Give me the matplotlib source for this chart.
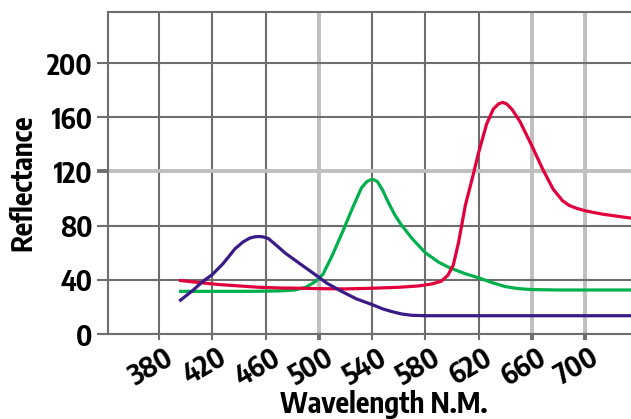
import matplotlib
matplotlib.use("Agg")
import matplotlib.pyplot as plt
import matplotlib.transforms as mtransforms

# spectral reflectance curves
blue_nm = [396, 405, 413, 420, 428, 437, 443, 448, 452, 455, 458, 462, 468, 475, 487, 497,
           506, 517, 528, 540, 548, 555, 562, 570, 580, 735]
blue_val = [25, 32, 39, 44, 52, 63, 68, 70.8, 71.8, 72, 71.7, 70.5, 65.5, 59.5, 51, 44,
            37.5, 31.5, 26, 21.7, 18.5, 16.5, 14.8, 13.8, 13.5, 13.5]

green_nm = [396, 420, 450, 470, 482, 490, 497, 503, 510, 518, 525, 532, 536, 539, 541,
            544, 548, 552, 557, 562, 570, 580, 590, 598, 610, 620, 630, 640, 650,
            660, 680, 735]
green_val = [31.5, 31.5, 31.5, 31.8, 32.5, 34.5, 38.5, 44, 58, 76, 92.5, 108, 112.5, 114, 114,
             112.5, 106, 97.5, 88, 80.5, 70.5, 60, 53, 49, 44.5, 41.5, 38, 35, 33.5,
             32.8, 32.5, 32.5]

red_nm = [396, 410, 425, 440, 455, 470, 485, 500, 520, 540, 560, 575, 585, 592, 597,
          601, 605, 610, 615, 620, 626, 631, 635, 638, 641, 645, 651, 660, 668, 676,
          683, 688, 693, 700, 713, 735]
red_val = [39.5, 38, 36.5, 35.5, 34.5, 34, 33.8, 33.5, 33.3, 33.8, 34.5, 35.5, 37, 39, 43.5,
           51, 68, 95, 114, 134, 155, 166, 170, 171, 170, 166, 157, 139, 122, 107,
           98.5, 95, 93, 91, 88.5, 85.5]

x_ticks = [380, 420, 460, 500, 540, 580, 620, 660, 700]
y_ticks = [0, 40, 80, 120, 160, 200]
light_x = [500, 660, 700]
light_y = [120]

dark = "#6e6e6e"
light = "#bfbfbf"
font = dict(family=["Encode Sans Condensed", "DejaVu Sans"], fontweight="bold")

fig = plt.figure(figsize=(6.31, 4.19), dpi=100)
ax = fig.add_axes([108 / 631, 1 - 334 / 419, 1 - 108 / 631, (334 - 11.7) / 419])

ax.plot(green_nm, green_val, color="#00b04c", lw=2.3, zorder=3)
ax.plot(red_nm, red_val, color="#e2003c", lw=2.3, zorder=4)
ax.plot(blue_nm, blue_val, color="#3a1a86", lw=2.3, zorder=5)

ax.set_xlim(341.5, 734.5)
ax.set_ylim(0, 238)
ax.set_xticks(x_ticks)
ax.set_yticks(y_ticks)
ax.grid(True, color=dark, lw=1.5)
ax.set_axisbelow(True)

ax.tick_params(axis="y", length=8, width=1.5, color=dark, pad=3)
ax.tick_params(axis="x", length=4.5, width=1.5, color=dark, pad=2)

for t, v in zip(ax.xaxis.get_major_ticks(), x_ticks):
    if v in light_x:
        t.gridline.set_color(light)
        t.gridline.set_linewidth(2.8)
        t.tick1line.set_color(light)
        t.tick1line.set_markeredgewidth(2.8)
for t, v in zip(ax.yaxis.get_major_ticks(), y_ticks):
    if v in light_y:
        t.gridline.set_color(light)
        t.gridline.set_linewidth(2.8)
        t.tick1line.set_color(light)
        t.tick1line.set_markeredgewidth(2.8)

for s in ["left", "bottom", "top"]:
    ax.spines[s].set_color(dark)
    ax.spines[s].set_linewidth(1.5)
ax.spines["right"].set_visible(False)

ax.set_xticklabels([str(v) for v in x_ticks], rotation=30, ha="center", fontsize=20, **font)
ax.set_yticklabels([str(v) for v in y_ticks], fontsize=20, **font)
shift = mtransforms.ScaledTranslation(-8 / 100, 0, fig.dpi_scale_trans)
for lbl in ax.get_xticklabels():
    lbl.set_transform(lbl.get_transform() + shift)

ax.set_xlabel("Wavelength N.M.", fontsize=20.5, **font)
ax.set_ylabel("Reflectance", fontsize=20.5, **font)
ax.xaxis.label.set_va("center")
ax.yaxis.label.set_va("center")
ax.xaxis.set_label_coords(0.527, -0.218)
ax.yaxis.set_label_coords(-0.1625, 0.4685)

fig.savefig("out.png", dpi=100)
